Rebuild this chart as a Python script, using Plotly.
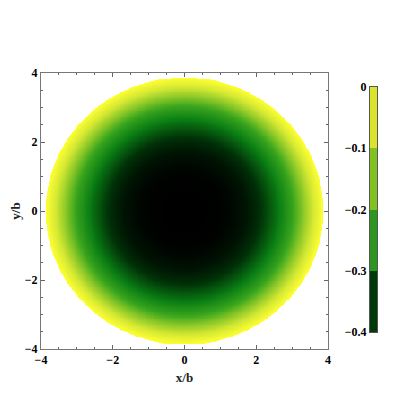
import numpy as np
import plotly.graph_objects as go

# radial profile (r in units of b, value)
radius = [0.0, 0.5, 1.0, 1.25, 1.7, 2.15, 2.6, 3.0, 3.3, 3.6, 3.87]
value = [-0.400, -0.400, -0.397, -0.392, -0.372, -0.330, -0.268, -0.195, -0.115, -0.045, 0.0]
disk_r = 3.87

# legend bar: four bands
band_mid = [-0.35, -0.25, -0.15, -0.05]
band_cols = ["#003a0a", "#2d9621", "#82c220", "#d9e42b"]
cb_ticks = [0, -0.1, -0.2, -0.3, -0.4]
cb_labels = ["0", "\u22120.1", "\u22120.2", "\u22120.3", "\u22120.4"]

# continuous colours for the density (black -> green -> yellow)
avocado = [[0.0, "#000000"], [0.15, "#002a06"], [0.35, "#0a7e14"],
           [0.55, "#3ea81e"], [0.72, "#8cc828"], [0.87, "#d0e632"], [1.0, "#ffff33"]]

g = np.linspace(-4, 4, 321)
X, Y = np.meshgrid(g, g)
R = np.sqrt(X**2 + Y**2)
Z = np.interp(R, radius, value)
Z[R > disk_r] = np.nan

steps = []
for i, c in enumerate(band_cols):
    steps.append([i / 4, c])
    steps.append([(i + 1) / 4, c])

font = dict(family="Liberation Serif", size=12, color="black", weight="bold")

fig = go.Figure()
fig.add_heatmap(x=g, y=g, z=Z, colorscale=avocado, zmin=-0.4, zmax=0,
                showscale=False, hoverinfo="skip")
fig.add_heatmap(x=[0], y=band_mid, z=[[v] for v in band_mid], colorscale=steps,
                zmin=-0.4, zmax=0, showscale=False, hoverinfo="skip",
                xaxis="x2", yaxis="y2")

ax = dict(range=[-4, 4], tickvals=[-4, -2, 0, 2, 4], ticks="inside", ticklen=4,
          tickcolor="#666", linecolor="#777", linewidth=1, mirror="allticks",
          showline=True, showgrid=False, zeroline=False,
          minor=dict(dtick=0.5, ticks="inside", ticklen=2, tickcolor="#666"),
          tickfont=font)
title_font = dict(family="Liberation Serif", size=13, color="#222", weight="bold")

# page body adds an 8px offset, so the figure is drawn 8px smaller
plot_w = 377 - 41
fig.update_layout(
    width=407, height=407,
    margin=dict(l=33, r=38, t=65, b=66),
    plot_bgcolor="white", paper_bgcolor="white",
    xaxis=dict(ax, domain=[0, 287 / plot_w], automargin=False,
               title=dict(text="x/b", standoff=6, font=title_font)),
    yaxis=dict(ax, automargin=False, title=dict(text="y/b", standoff=12, font=title_font)),
    xaxis2=dict(domain=[(370 - 41) / plot_w, 1], range=[-0.5, 0.5], anchor="y2",
                showticklabels=False, ticks="", showgrid=False, zeroline=False,
                showline=True, linecolor="#555", mirror=True),
    yaxis2=dict(domain=[(349 - 332) / 276, (349 - 87) / 276], range=[-0.4, 0], anchor="x2",
                tickvals=cb_ticks, ticktext=cb_labels, ticks="", tickfont=font,
                showgrid=False, zeroline=False, showline=True, linecolor="#555",
                mirror=True, automargin=False),
)

fig.write_html("out.html")
